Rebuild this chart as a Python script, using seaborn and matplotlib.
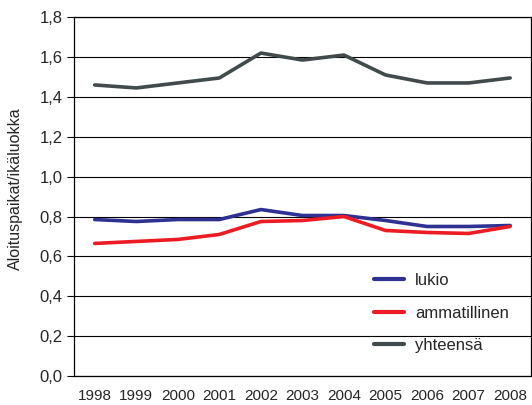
import matplotlib
matplotlib.use("Agg")
import matplotlib.pyplot as plt
import matplotlib.ticker as mticker
import numpy as np
import pandas as pd
import seaborn as sns

years = ["1998", "1999", "2000", "2001", "2002", "2003", "2004", "2005", "2006", "2007", "2008"]
lukio = [0.785, 0.775, 0.785, 0.785, 0.835, 0.805, 0.805, 0.780, 0.750, 0.750, 0.755]
ammatillinen = [0.665, 0.675, 0.685, 0.710, 0.775, 0.780, 0.800, 0.730, 0.720, 0.715, 0.750]
yhteensa = [1.460, 1.445, 1.470, 1.495, 1.620, 1.585, 1.610, 1.510, 1.470, 1.470, 1.495]

series = ["lukio", "ammatillinen", "yhteensä"]
colors = ["#2e3192", "#ed1c24", "#414a4c"]

df = pd.DataFrame({
    "x": list(range(len(years))) * 3,
    "value": lukio + ammatillinen + yhteensa,
    "sarja": [s for s in series for _ in years],
})

sns.set_style("white")
plt.rcParams["font.family"] = ["Liberation Sans", "DejaVu Sans"]

fig = plt.figure(figsize=(5.32, 4.05), dpi=100)
ax = fig.add_axes([0.139, 0.0716, 0.859, 0.886])

sns.lineplot(data=df, x="x", y="value", hue="sarja", hue_order=series,
             palette=colors, linewidth=2.6, ax=ax, legend=False, zorder=3)

ax.set_ylim(0, 1.8)
ax.set_xlim(-0.5, len(years) - 0.5)
ax.yaxis.set_major_locator(mticker.MultipleLocator(0.2))
ax.yaxis.set_major_formatter(mticker.FuncFormatter(lambda v, p: f"{v:.1f}".replace(".", ",")))
ax.grid(axis="y", color="black", linewidth=0.8)
ax.set_axisbelow(True)

# category axis: ticks between the years, labels in the middle
ax.set_xticks(np.arange(-0.5, len(years), 1.0))
ax.set_xticklabels([])
ax.set_xticks(range(len(years)), minor=True)
ax.set_xticklabels(years, minor=True, fontsize=11)
ax.tick_params(axis="x", which="major", direction="out", length=5, width=0.8, color="black")
ax.tick_params(axis="x", which="minor", length=0, pad=9)
ax.tick_params(axis="y", direction="out", length=5, width=0.8, color="black",
               labelsize=12, pad=3, left=True)

for sp in ax.spines.values():
    sp.set_color("black")
    sp.set_linewidth(0.9)

ax.set_xlabel("")
ax.set_ylabel("")
fig.text(15 / 532, 1 - 189 / 405, "Aloituspaikat/ikäluokka", rotation=90,
         ha="center", va="center", fontsize=11.5)

# legend without frame, lower right inside the plot
handles = [plt.Line2D([], [], color=c, linewidth=3) for c in colors]
ax.legend(handles, series, loc="center left", bbox_to_anchor=(0.641, 0.175),
          borderaxespad=0, frameon=False, fontsize=12, handlelength=1.8,
          handletextpad=0.7, labelspacing=1.05)

fig.savefig("out.png", dpi=100)
